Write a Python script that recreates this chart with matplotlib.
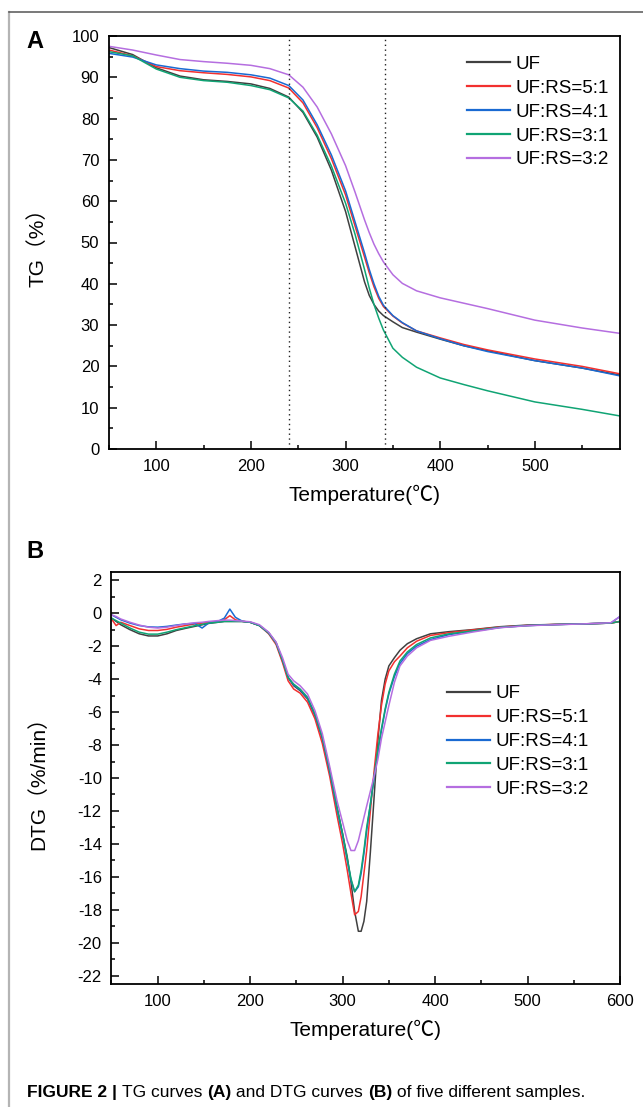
import matplotlib
matplotlib.use("Agg")
import matplotlib.pyplot as plt
from matplotlib.lines import Line2D
from matplotlib.ticker import MultipleLocator

plt.rcParams["font.family"] = ["Liberation Sans", "Noto Sans CJK SC", "DejaVu Sans"]
plt.rcParams["axes.unicode_minus"] = False

SERIES = ["UF", "UF:RS=5:1", "UF:RS=4:1", "UF:RS=3:1", "UF:RS=3:2"]
COLORS = ["#404040", "#f2302f", "#1a6ad2", "#10a474", "#b56ee0"]

# TG curves (%)
TG_TEMP = [50, 75, 100, 125, 150, 175, 200, 220, 240, 255, 270, 285, 300, 310, 320, 325,
           330, 335, 340, 350, 360, 375, 400, 425, 450, 500, 550, 590]
TG_UF = [97.2, 95.5, 92.3, 90.3, 89.4, 89.0, 88.4, 87.3, 85.2, 81.5, 75.5, 67.5, 57.5, 49.0, 40.5, 37.2,
         35.0, 33.4, 32.3, 30.8, 29.4, 28.3, 26.6, 25.0, 23.8, 21.4, 19.6, 17.9]
TG_51 = [96.6, 95.2, 92.6, 91.6, 91.1, 90.7, 90.1, 89.2, 87.4, 83.8, 77.8, 70.3, 61.5, 54.0, 46.5, 42.7,
         39.3, 36.5, 34.5, 32.2, 30.5, 28.6, 26.9, 25.3, 24.0, 21.8, 20.0, 18.2]
TG_41 = [95.8, 94.9, 93.0, 92.1, 91.5, 91.2, 90.6, 89.8, 88.0, 84.5, 78.5, 71.2, 62.5, 55.0, 47.5, 43.5,
         40.0, 37.0, 34.8, 32.3, 30.6, 28.6, 26.7, 25.0, 23.6, 21.4, 19.6, 17.7]
TG_31 = [96.2, 95.2, 92.0, 90.0, 89.2, 88.8, 88.0, 87.0, 85.0, 81.8, 76.0, 68.5, 59.5, 52.0, 43.5, 39.0,
         35.0, 31.7, 28.8, 24.4, 22.2, 19.8, 17.2, 15.6, 14.1, 11.4, 9.6, 8.0]
TG_32 = [97.5, 96.6, 95.4, 94.3, 93.8, 93.4, 92.9, 92.1, 90.6, 87.6, 82.8, 76.3, 68.6, 62.2, 55.5, 52.4,
         49.6, 47.3, 45.3, 42.2, 40.1, 38.3, 36.6, 35.3, 34.0, 31.2, 29.3, 28.0]
TG_MARKS = [240, 342]

# DTG curves (%/min)
DTG_TEMP = [50, 55, 60, 70, 80, 90, 100, 110, 120, 130, 140, 148, 155, 165, 172, 178, 184, 192,
            200, 210, 220, 228, 235, 241, 247, 254, 262, 270, 278, 286, 294, 300, 305, 309, 313,
            317, 320, 323, 326, 330, 334, 338, 342, 346, 350, 356, 362, 370, 380, 395, 415, 440,
            470, 500, 530, 560, 590, 600]
DTG_UF = [-0.3, -0.5, -0.7, -1.0, -1.25, -1.38, -1.38, -1.25, -1.05, -0.92, -0.8, -0.7, -0.62, -0.55,
          -0.5, -0.5, -0.5, -0.5, -0.55, -0.75, -1.2, -1.8, -2.9, -3.9, -4.4, -4.7, -5.2, -6.2, -7.6,
          -9.5, -11.8, -13.4, -14.8, -16.3, -18.1, -19.3, -19.3, -18.7, -17.5, -14.5, -11.2, -7.8,
          -5.3, -4.0, -3.2, -2.7, -2.25, -1.85, -1.55, -1.25, -1.12, -1.0, -0.82, -0.72, -0.68,
          -0.65, -0.6, -0.5]
DTG_51 = [-0.35, -0.75, -0.55, -0.75, -0.95, -1.05, -1.05, -0.98, -0.85, -0.75, -0.65, -0.6, -0.55,
          -0.5, -0.4, -0.15, -0.4, -0.5, -0.55, -0.75, -1.25, -1.9, -3.0, -4.1, -4.6, -4.85, -5.4,
          -6.4, -7.9, -9.9, -12.3, -14.0, -15.6, -17.0, -18.3, -18.1, -17.2, -15.8, -14.4, -12.0,
          -9.6, -7.4, -5.6, -4.3, -3.5, -2.95, -2.6, -2.1, -1.7, -1.35, -1.18, -1.02, -0.84, -0.74,
          -0.68, -0.65, -0.6, -0.5]
DTG_41 = [-0.1, -0.25, -0.4, -0.6, -0.75, -0.83, -0.85, -0.8, -0.72, -0.65, -0.62, -0.9, -0.6, -0.5,
          -0.3, 0.25, -0.25, -0.5, -0.55, -0.75, -1.2, -1.8, -2.85, -3.9, -4.35, -4.65, -5.15, -6.15,
          -7.55, -9.6, -11.9, -13.5, -15.0, -16.2, -16.9, -16.6, -15.8, -14.6, -13.2, -11.6, -10.0,
          -8.5, -7.1, -5.9, -4.9, -3.85, -3.05, -2.45, -2.0, -1.6, -1.3, -1.1, -0.87, -0.75, -0.69,
          -0.65, -0.6, -0.2]
DTG_31 = [-0.3, -0.45, -0.6, -0.9, -1.15, -1.27, -1.27, -1.15, -1.0, -0.88, -0.76, -0.68, -0.6,
          -0.55, -0.5, -0.5, -0.5, -0.5, -0.55, -0.75, -1.2, -1.8, -2.85, -3.9, -4.3, -4.6, -5.1,
          -6.1, -7.5, -9.5, -11.8, -13.4, -14.9, -16.1, -16.9, -16.5, -15.6, -14.4, -13.0, -11.6,
          -9.9, -8.3, -7.0, -5.8, -4.8, -3.7, -2.9, -2.35, -1.9, -1.5, -1.25, -1.08, -0.86, -0.75,
          -0.69, -0.65, -0.6, -0.5]
DTG_32 = [-0.1, -0.2, -0.35, -0.55, -0.72, -0.85, -0.9, -0.85, -0.75, -0.65, -0.58, -0.55, -0.5,
          -0.45, -0.42, -0.42, -0.45, -0.48, -0.52, -0.7, -1.15, -1.75, -2.7, -3.7, -4.1, -4.4, -4.9,
          -5.9, -7.3, -9.3, -11.4, -12.7, -13.8, -14.4, -14.4, -13.8, -13.1, -12.4, -11.7, -10.8,
          -9.9, -8.9, -7.6, -6.6, -5.6, -4.2, -3.2, -2.6, -2.1, -1.65, -1.4, -1.15, -0.88, -0.76,
          -0.7, -0.65, -0.58, -0.2]

TG_DATA = [TG_UF, TG_51, TG_41, TG_31, TG_32]
DTG_DATA = [DTG_UF, DTG_51, DTG_41, DTG_31, DTG_32]

W, H = 643, 1107


def px_axes(fig, left, top, right, bottom):
    return fig.add_axes([left / W, 1 - bottom / H, (right - left) / W, (bottom - top) / H])


def style_axes(ax):
    for spine in ax.spines.values():
        spine.set_linewidth(1.3)
    ax.tick_params(which="both", direction="in", top=False, right=False, labelsize=12, width=1.1)
    ax.tick_params(which="major", length=5.5, pad=7)
    ax.tick_params(which="minor", length=3)


def add_legend(ax, anchor):
    handles = [Line2D([], [], color=c, linewidth=1.6) for c in COLORS]
    ax.legend(handles, SERIES, loc="upper left", bbox_to_anchor=anchor, frameon=False,
              fontsize=13.5, handlelength=2.3, handletextpad=0.3, labelspacing=0.36,
              borderpad=0, borderaxespad=0)


def plot_tg(fig):
    ax = px_axes(fig, 109, 36, 620, 449)
    for values, color in zip(TG_DATA, COLORS):
        ax.plot(TG_TEMP, values, color=color, linewidth=1.1)
    for t in TG_MARKS:
        ax.axvline(t, color="#222222", linestyle=(0, (1, 2.5)), linewidth=1.0)
    ax.set_xlim(50, 590)
    ax.set_ylim(0, 100)
    ax.xaxis.set_major_locator(MultipleLocator(100))
    ax.xaxis.set_minor_locator(MultipleLocator(50))
    ax.yaxis.set_major_locator(MultipleLocator(10))
    ax.yaxis.set_minor_locator(MultipleLocator(5))
    style_axes(ax)
    ax.set_xlabel("Temperature(℃)", fontsize=15, labelpad=8)
    add_legend(ax, (0.70, 0.952))
    fig.text(38 / W, 1 - 242 / H, "TG（%）", fontsize=15, rotation=90, ha="center", va="center")
    return ax


def plot_dtg(fig):
    ax = px_axes(fig, 111.5, 572, 620, 984)
    for values, color in zip(DTG_DATA, COLORS):
        ax.plot(DTG_TEMP, values, color=color, linewidth=1.1)
    ax.set_xlim(50, 600)
    ax.set_ylim(-22.5, 2.5)
    ax.xaxis.set_major_locator(MultipleLocator(100))
    ax.xaxis.set_minor_locator(MultipleLocator(50))
    ax.yaxis.set_major_locator(MultipleLocator(2))
    ax.yaxis.set_minor_locator(MultipleLocator(1))
    style_axes(ax)
    ax.set_xlabel("Temperature(℃)", fontsize=15, labelpad=8)
    add_legend(ax, (0.659, 0.725))
    fig.text(38 / W, 1 - 778 / H, "DTG（%/min）", fontsize=15, rotation=90, ha="center", va="center")
    return ax


def main() -> None:
    fig = plt.figure(figsize=(W / 100, H / 100), dpi=100)

    # outer frame of the published figure
    fig.add_artist(Line2D([9 / W, 9 / W], [0, 1 - 12 / H], color="#b4b4b4", linewidth=1.6))
    fig.add_artist(Line2D([9 / W, 1], [1 - 12 / H, 1 - 12 / H], color="#555555", linewidth=1.1))

    plot_tg(fig)
    plot_dtg(fig)
    fig.text(35 / W, 1 - 41 / H, "A", fontsize=17, fontweight="bold", ha="center", va="center")
    fig.text(35 / W, 1 - 552 / H, "B", fontsize=17, fontweight="bold", ha="center", va="center")

    # caption with mixed weights, chained along the baseline
    parts = [("FIGURE 2 | ", "bold"), ("TG curves ", "normal"), ("(A)", "bold"),
             (" and DTG curves ", "normal"), ("(B)", "bold"), (" of five different samples.", "normal")]
    y0 = 1 - 1097 / H
    renderer = fig.canvas.get_renderer()
    x = 27 / W
    for text, weight in parts:
        t = fig.text(x, y0, text, fontsize=12.5, fontweight=weight, va="baseline", ha="left")
        bb = t.get_window_extent(renderer=renderer)
        x = bb.x1 / fig.bbox.width

    fig.savefig("out.png", dpi=100)
    plt.close(fig)


if __name__ == "__main__":
    main()
